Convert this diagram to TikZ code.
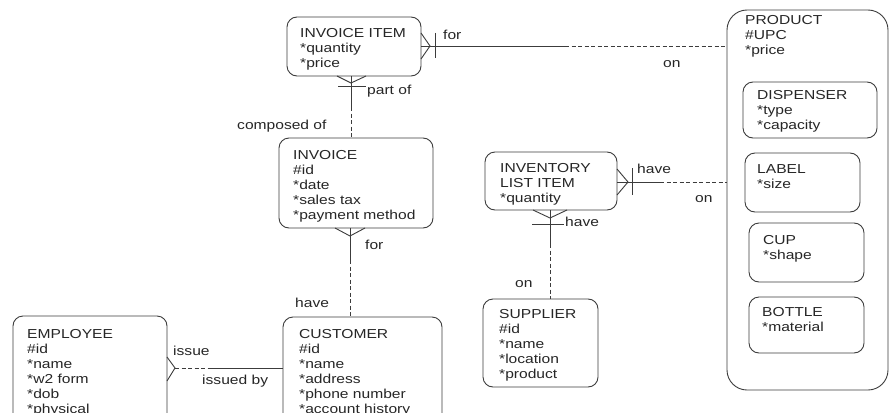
\documentclass[tikz,border=0pt]{standalone}
\usepackage{fontspec}
\setmainfont{Liberation Sans}[FakeStretch=1.2]
\definecolor{linec}{HTML}{3C3C3C}
\definecolor{txtc}{HTML}{262626}
\begin{document}
\begin{tikzpicture}[x=1pt,y=-1pt,
  ebox/.style={draw=linec, line width=0.9pt, rounded corners=10pt, anchor=north west,
               inner sep=0pt, outer sep=0pt},
  etext/.style={anchor=north west, inner sep=0pt, align=left, text=txtc,
                font=\fontsize{13}{15}\selectfont},
  lbl/.style={anchor=mid west, inner sep=0pt, text=txtc, font=\fontsize{13}{15}\selectfont},
  rel/.style={draw=linec, line width=0.9pt},
  opt/.style={rel, dash pattern=on 4pt off 2.5pt}]

\useasboundingbox (0,0) rectangle (890,412);
\fill[white] (0,0) rectangle (890,412);
\clip (0,0) rectangle (890,412);

% ---------- entities ----------
\node[ebox, minimum width=134pt, minimum height=59pt] (ii) at (287,17) {};
\node[etext] (ii-t) at (300,28) {INVOICE ITEM\\*quantity\\*price};

\node[ebox, minimum width=154pt, minimum height=90pt] (inv) at (279,138) {};
\node[etext] (inv-t) at (293,150) {INVOICE\\\#id\\*date\\*sales tax\\*payment method};

\node[ebox, minimum width=159pt, minimum height=120pt] (cust) at (283,317) {};
\node[etext] (cust-t) at (299,329) {CUSTOMER\\\#id\\*name\\*address\\*phone number\\*account history};

\node[ebox, minimum width=154pt, minimum height=120pt] (emp) at (13,316) {};
\node[etext] (emp-t) at (27,329) {EMPLOYEE\\\#id\\*name\\*w2 form\\*dob\\*physical};

\node[ebox, minimum width=132pt, minimum height=58pt] (ili) at (485,152) {};
\node[etext] (ili-t) at (500,163) {INVENTORY\\LIST ITEM\\*quantity};

\node[ebox, minimum width=115pt, minimum height=88pt] (sup) at (483,299) {};
\node[etext] (sup-t) at (499,309) {SUPPLIER\\\#id\\*name\\*location\\*product};

% product supertype with its four subtypes
\node[ebox, rounded corners=20pt, minimum width=161pt, minimum height=380pt] (prod) at (727,10) {};
\node[etext] (prod-t) at (745,15) {PRODUCT\\\#UPC\\*price};

\node[ebox, minimum width=134pt, minimum height=56pt] (disp) at (743,82) {};
\node[etext] (disp-t) at (757,90) {DISPENSER\\*type\\*capacity};

\node[ebox, minimum width=115pt, minimum height=59pt] (lab) at (745,153) {};
\node[etext] (lab-t) at (757,164) {LABEL\\*size};

\node[ebox, minimum width=115pt, minimum height=59pt] (cup) at (749,223) {};
\node[etext] (cup-t) at (763,235) {CUP\\*shape};

\node[ebox, minimum width=115pt, minimum height=56pt] (bot) at (749,297) {};
\node[etext] (bot-t) at (762,307) {BOTTLE\\*material};

% ---------- invoice item -- product ----------
\coordinate (r1) at (430,46);
\coordinate (r1s) at (565,46);
\draw[rel] (ii.east |- 0,33) -- (r1) -- (ii.east |- 0,59);
\draw[rel] (435,33) -- (435,58);
\draw[rel] (ii.east |- r1) -- (r1s);
\draw[opt] (r1s) -- (prod.west |- r1s);
\node[lbl] (l-for1) at (443,37) {for};
\node[lbl] (l-on1) at (663,65) {on};

% ---------- invoice item -- invoice ----------
\coordinate (r2) at (351,83);
\coordinate (r2s) at (351,107);
\draw[rel] (ii.south -| 337,0) -- (r2) -- (ii.south -| 366,0);
\draw[rel] (338,86) -- (366,86);
\draw[rel] (ii.south -| r2) -- (r2s);
\draw[opt] (r2s) -- (inv.north -| r2s);
\node[lbl] (l-part) at (367,92) {part of};
\node[lbl] (l-comp) at (237,127) {composed of};

% ---------- invoice -- customer ----------
\coordinate (r3) at (350,236);
\coordinate (r3s) at (350,260);
\draw[rel] (inv.south -| 335,0) -- (r3) -- (inv.south -| 365,0);
\draw[rel] (inv.south -| r3) -- (r3s);
\draw[opt] (r3s) -- (cust.north -| r3s);
\node[lbl] (l-for2) at (365,247) {for};
\node[lbl] (l-have1) at (295,305) {have};

% ---------- employee -- customer ----------
\coordinate (r4) at (175,368);
\coordinate (r4s) at (209,368);
\draw[rel] (emp.east |- 0,357) -- (r4) -- (emp.east |- 0,381);
\draw[opt] (r4) -- (r4s);
\draw[rel] (r4s) -- (cust.west |- r4s);
\node[lbl] (l-issue) at (173,353) {issue};
\node[lbl] (l-issued) at (202,382) {issued by};

% ---------- inventory list item -- product ----------
\coordinate (r5) at (628,182);
\coordinate (r5s) at (660,182);
\draw[rel] (ili.east |- 0,169) -- (r5) -- (ili.east |- 0,195);
\draw[rel] (632,168) -- (632,195);
\draw[rel] (ili.east |- r5) -- (r5s);
\draw[opt] (r5s) -- (prod.west |- r5s);
\node[lbl] (l-have2) at (637,171) {have};
\node[lbl] (l-on2) at (695,200) {on};

% ---------- inventory list item -- supplier ----------
\coordinate (r6) at (550,218);
\coordinate (r6s) at (550,244);
\draw[rel] (ili.south -| 533,0) -- (r6) -- (ili.south -| 567,0);
\draw[rel] (532,224) -- (564,224);
\draw[rel] (ili.south -| r6) -- (r6s);
\draw[opt] (r6s) -- (sup.north -| r6s);
\node[lbl] (l-have3) at (565,224) {have};
\node[lbl] (l-on3) at (515,285) {on};
\end{tikzpicture}
\end{document}
